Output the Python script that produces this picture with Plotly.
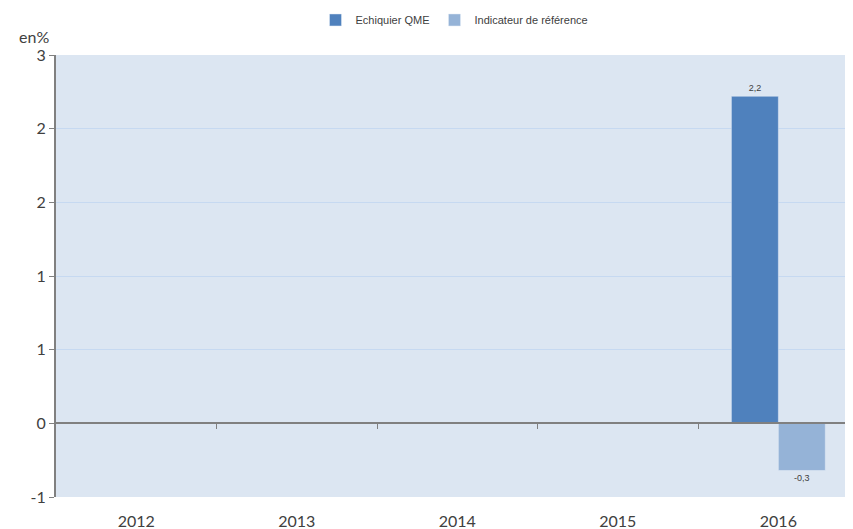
import plotly.graph_objects as go

years = ['2012', '2013', '2014', '2015', '2016']
echiquier_qme = [None, None, None, None, 2.22]
indicateur_ref = [None, None, None, None, -0.32]

# graduations tous les 0,5 mais affichées arrondies (comme dans Excel)
y_tickvals = [-0.5, 0, 0.5, 1, 1.5, 2, 2.5]
y_ticktext = ['-1', '0', '1', '1', '2', '2', '3']
x_boundaries = [0.5, 1.5, 2.5, 3.5]

y_range = [-0.5, 2.5]
x_range = [-0.5, 4.465]  # le graphique d'origine est légèrement coupé à droite
zero_pos = (0 - y_range[0]) / (y_range[1] - y_range[0])

fig = go.Figure()

fig.add_trace(go.Bar(
    x=years, y=echiquier_qme, name='Echiquier QME',
    marker_color='#4f81bd',
    texttemplate='%{y:.1f}', textposition='outside',
    textfont=dict(size=9, color='#404040', family='Liberation Sans'),
    cliponaxis=False,
))
fig.add_trace(go.Bar(
    x=years, y=indicateur_ref, name='Indicateur de référence',
    marker_color='#95b3d7',
    texttemplate='%{y:.1f}', textposition='outside',
    textfont=dict(size=9, color='#404040', family='Liberation Sans'),
    cliponaxis=False,
))

# axe secondaire qui sert de ligne du zéro avec ses graduations
fig.add_trace(go.Scatter(x=[None], y=[None], xaxis='x2', showlegend=False, hoverinfo='skip'))

# la page a une marge de 8px, d'où la taille réduite
fig.update_layout(
    width=845, height=521,
    margin=dict(l=48, r=0, t=47, b=32, autoexpand=False),
    paper_bgcolor='white',
    plot_bgcolor='#dce6f2',
    barmode='group',
    bargap=0.415,
    bargroupgap=0,
    separators=', ',
    font=dict(family='Lato', color='#404040'),
    legend=dict(
        orientation='h', x=0.5, xanchor='center',
        yref='container', y=0.977, yanchor='middle',
        font=dict(size=11, family='Liberation Sans', color='#404040'),
        itemwidth=30, traceorder='normal',
    ),
    xaxis=dict(
        type='category', range=x_range,
        showgrid=False, zeroline=False, showline=False,
        ticks='outside', ticklen=10, tickcolor='rgba(0,0,0,0)',
        tickfont=dict(size=16, color='#404040'),
    ),
    xaxis2=dict(
        overlaying='x', anchor='free', position=zero_pos,
        range=x_range, showgrid=False, zeroline=False,
        showline=True, linecolor='#808080', linewidth=2,
        ticks='outside', ticklen=5, tickcolor='#808080',
        tickvals=x_boundaries, showticklabels=False,
    ),
    yaxis=dict(
        range=y_range, tickvals=y_tickvals, ticktext=y_ticktext,
        showgrid=True, gridcolor='#c6d9f1', gridwidth=1,
        zeroline=False, showline=True, linecolor='#808080', linewidth=2,
        ticks='outside', ticklen=5, tickcolor='#808080',
        tickfont=dict(size=16, color='#404040'),
    ),
    annotations=[dict(
        text='en%', xref='paper', yref='paper', x=0, y=1,
        xanchor='right', yanchor='bottom', xshift=-5, yshift=7,
        showarrow=False, font=dict(size=16, color='#404040'),
    )],
)

fig.write_html('out.html')
